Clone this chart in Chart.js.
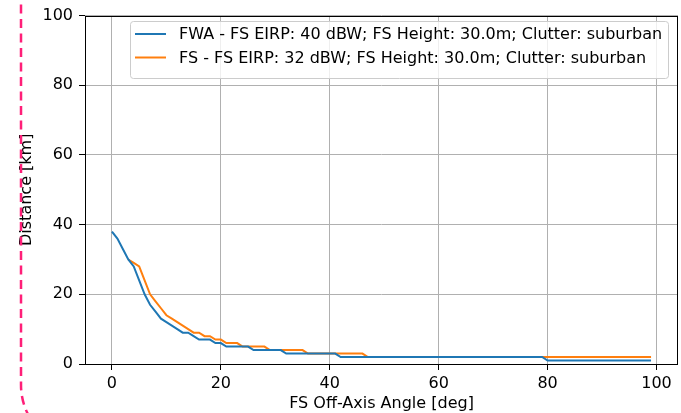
<!DOCTYPE html>
<html>
<head>
<meta charset="utf-8">
<script src="https://cdn.jsdelivr.net/npm/chart.js@4/dist/chart.umd.min.js"></script>
<style>
  html, body { margin: 0; padding: 0; background: #fff; }
  #wrap { position: relative; width: 681px; height: 413px; overflow: hidden; }
  #grafico { position: absolute; left: 0; top: 0; }
  #moldura { position: absolute; left: 0; top: 0; pointer-events: none; }
</style>
</head>
<body>
<div id="wrap">
  <canvas id="grafico" width="681" height="413"></canvas>
  <svg id="moldura" width="681" height="413">
    <path d="M 21 -10 L 21 385 A 65 65 0 0 0 86 450" fill="none" stroke="#ff1f78" stroke-width="2.5" stroke-dasharray="9 5.5"/>
  </svg>
</div>
<script>
// angulos (graus) e distancias (km)
const angulosFWA = [
  0, 1, 2, 3, 4, 5, 6, 7, 8, 9, 10, 11, 12, 13, 14, 15, 16, 17, 18, 19,
  20, 21, 22, 23, 24, 25, 26, 27, 28, 29, 30, 31, 32, 33, 34, 35, 36, 37, 38, 39,
  40, 41, 42, 43, 44, 45, 46, 47, 48, 49, 50, 51, 52, 53, 54, 55, 56, 57, 58, 59,
  60, 61, 62, 63, 64, 65, 66, 67, 68, 69, 70, 71, 72, 73, 74, 75, 76, 77, 78, 79,
  80, 81, 82, 83, 84, 85, 86, 87, 88, 89, 90, 91, 92, 93, 94, 95, 96, 97, 98, 99
];
const distanciaFWA = [
  38, 36, 33, 30, 28, 24, 20, 17, 15, 13, 12, 11, 10, 9, 9, 8, 7, 7, 7, 6,
  6, 5, 5, 5, 5, 5, 4, 4, 4, 4, 4, 4, 3, 3, 3, 3, 3, 3, 3, 3,
  3, 3, 2, 2, 2, 2, 2, 2, 2, 2, 2, 2, 2, 2, 2, 2, 2, 2, 2, 2,
  2, 2, 2, 2, 2, 2, 2, 2, 2, 2, 2, 2, 2, 2, 2, 2, 2, 2, 2, 2,
  1, 1, 1, 1, 1, 1, 1, 1, 1, 1, 1, 1, 1, 1, 1, 1, 1, 1, 1, 1
];
const angulosFS = [
  3, 4, 5, 6, 7, 8, 9, 10, 11, 12, 13, 14, 15, 16, 17, 18, 19,
  20, 21, 22, 23, 24, 25, 26, 27, 28, 29, 30, 31, 32, 33, 34, 35, 36, 37, 38, 39,
  40, 41, 42, 43, 44, 45, 46, 47, 48, 49, 50, 51, 52, 53, 54, 55, 56, 57, 58, 59,
  60, 61, 62, 63, 64, 65, 66, 67, 68, 69, 70, 71, 72, 73, 74, 75, 76, 77, 78, 79,
  80, 81, 82, 83, 84, 85, 86, 87, 88, 89, 90, 91, 92, 93, 94, 95, 96, 97, 98, 99
];
const distanciaFS = [
  30, 29, 28, 24, 20, 18, 16, 14, 13, 12, 11, 10, 9, 9, 8, 8, 7,
  7, 6, 6, 6, 5, 5, 5, 5, 5, 4, 4, 4, 4, 4, 4, 4, 3, 3, 3, 3,
  3, 3, 3, 3, 3, 3, 3, 2, 2, 2, 2, 2, 2, 2, 2, 2, 2, 2, 2, 2,
  2, 2, 2, 2, 2, 2, 2, 2, 2, 2, 2, 2, 2, 2, 2, 2, 2, 2, 2, 2,
  2, 2, 2, 2, 2, 2, 2, 2, 2, 2, 2, 2, 2, 2, 2, 2, 2, 2, 2, 2
];
const rotulos = [
  'FWA - FS EIRP: 40 dBW; FS Height: 30.0m; Clutter: suburban',
  'FS - FS EIRP: 32 dBW; FS Height: 30.0m; Clutter: suburban'
];
const ticksX = [0, 20, 40, 60, 80, 100];
const ticksY = [0, 20, 40, 60, 80, 100];

const fonte = 'DejaVu Sans';
const tamFonte = 16;

function juntar(xs, ys) {
  return xs.map((x, i) => ({ x: x, y: ys[i] }));
}

// moldura preta em volta da area do grafico + legenda no canto
const pluginMoldura = {
  id: 'moldura',
  afterDatasetsDraw(chart) {
    const { ctx, chartArea: a } = chart;
    ctx.save();
    ctx.strokeStyle = '#000';
    ctx.lineWidth = 1;
    ctx.strokeRect(Math.round(a.left) + 0.5, Math.round(a.top) + 0.5,
      Math.round(a.right - a.left) - 1, Math.round(a.bottom - a.top));

    // legenda
    const bx = 130.5, by = 21.5, bw = 538, bh = 57;
    ctx.beginPath();
    ctx.roundRect(bx, by, bw, bh, 3);
    ctx.fillStyle = 'rgba(255,255,255,0.8)';
    ctx.fill();
    ctx.strokeStyle = '#cccccc';
    ctx.stroke();
    ctx.font = tamFonte + 'px "' + fonte + '"';
    ctx.textBaseline = 'middle';
    chart.data.datasets.forEach((ds, i) => {
      const y = 34 + i * 23.5;
      ctx.beginPath();
      ctx.moveTo(135, y);
      ctx.lineTo(166, y);
      ctx.strokeStyle = ds.borderColor;
      ctx.lineWidth = 2;
      ctx.stroke();
      ctx.fillStyle = '#000';
      ctx.fillText(ds.label, 179, y + 1);
    });
    ctx.restore();
  }
};

new Chart(document.getElementById('grafico').getContext('2d'), {
  type: 'line',
  data: {
    datasets: [{
      label: rotulos[0],
      data: juntar(angulosFWA, distanciaFWA),
      borderColor: '#1f77b4',
      borderWidth: 2,
      pointRadius: 0,
      tension: 0
    }, {
      label: rotulos[1],
      data: juntar(angulosFS, distanciaFS),
      borderColor: '#ff7f0e',
      borderWidth: 2,
      pointRadius: 0,
      tension: 0
    }]
  },
  options: {
    responsive: false,
    animation: false,
    devicePixelRatio: 1,
    layout: { padding: { left: 0, right: 3, top: 12, bottom: 0 } },
    plugins: {
      legend: { display: false },
      tooltip: { enabled: false }
    },
    scales: {
      x: {
        type: 'linear',
        min: -4.95,
        max: 103.95,
        afterBuildTicks: axis => { axis.ticks = ticksX.map(v => ({ value: v })); },
        afterFit: axis => { axis.height = 49; },
        grid: { color: '#b0b0b0', lineWidth: 1, tickColor: '#000', tickLength: 6 },
        border: { display: false },
        ticks: {
          color: '#000',
          padding: 4,
          maxRotation: 0,
          font: { family: fonte, size: tamFonte },
          callback: v => v
        },
        title: {
          display: true,
          text: 'FS Off-Axis Angle [deg]',
          color: '#000',
          font: { family: fonte, size: tamFonte },
          padding: { top: 0, bottom: 0 }
        }
      },
      y: {
        type: 'linear',
        min: 0,
        max: 100,
        afterBuildTicks: axis => { axis.ticks = ticksY.map(v => ({ value: v })); },
        afterFit: axis => { axis.width = 85; },
        grid: { color: '#b0b0b0', lineWidth: 1, tickColor: '#000', tickLength: 6 },
        border: { display: false },
        ticks: {
          color: '#000',
          padding: 6,
          font: { family: fonte, size: tamFonte },
          callback: v => v
        },
        title: {
          display: true,
          text: 'Distance [km]',
          color: '#000',
          font: { family: fonte, size: tamFonte },
          padding: { top: 17, bottom: 0 }
        }
      }
    }
  },
  plugins: [pluginMoldura]
});
</script>
</body>
</html>
